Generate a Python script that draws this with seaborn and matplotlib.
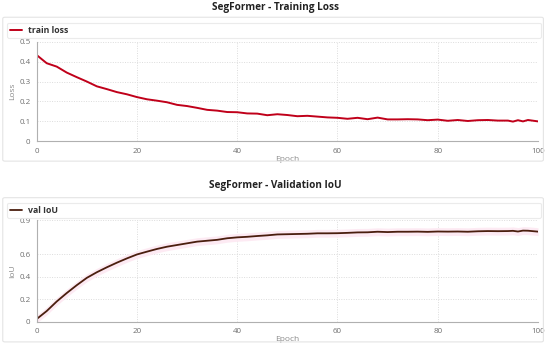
import numpy as np
import seaborn as sns
import matplotlib.pyplot as plt
from matplotlib.patches import FancyBboxPatch

epochs = [0, 2, 4, 6, 8, 10, 12, 14, 16, 18, 20, 22, 24, 26, 28, 30, 32, 34, 36, 38,
          40, 42, 44, 46, 48, 50, 52, 54, 56, 58, 60, 62, 64, 66, 68, 70, 72, 74, 76, 78,
          80, 82, 84, 86, 88, 90, 92, 94, 95, 96, 97, 98, 100]

train_loss = [0.433, 0.392, 0.375, 0.345, 0.322, 0.300, 0.276, 0.262, 0.247, 0.236,
              0.222, 0.211, 0.204, 0.196, 0.183, 0.177, 0.168, 0.158, 0.154, 0.147,
              0.146, 0.140, 0.139, 0.131, 0.136, 0.132, 0.126, 0.128, 0.124, 0.120,
              0.118, 0.113, 0.118, 0.111, 0.119, 0.110, 0.110, 0.111, 0.110, 0.106,
              0.109, 0.103, 0.107, 0.102, 0.106, 0.107, 0.104, 0.104, 0.099, 0.106,
              0.100, 0.107, 0.100]

val_iou = [0.024, 0.095, 0.180, 0.255, 0.325, 0.390, 0.440, 0.484, 0.525, 0.563,
           0.598, 0.623, 0.647, 0.667, 0.682, 0.697, 0.712, 0.720, 0.728, 0.742,
           0.750, 0.755, 0.762, 0.768, 0.776, 0.778, 0.780, 0.782, 0.786, 0.786,
           0.787, 0.790, 0.794, 0.795, 0.800, 0.797, 0.800, 0.800, 0.801, 0.799,
           0.802, 0.801, 0.802, 0.800, 0.804, 0.806, 0.805, 0.806, 0.808, 0.802,
           0.810, 0.809, 0.801]

loss_ticks = [0, 0.1, 0.2, 0.3, 0.4, 0.5]
iou_ticks = [0, 0.2, 0.4, 0.6, 0.9]
epoch_ticks = [0, 20, 40, 60, 80, 100]
iou_spread = 0.035

sns.set_style("white")
plt.rcParams["font.family"] = ["Open Sans", "DejaVu Sans"]

fig = plt.figure(figsize=(5.5, 3.45), dpi=100)

GREY = "#8a8a8a"


def panel(fig, box_y0, box_h, ax_rect, title, title_y):
    # outer light border of each chart card
    fig.patches.append(FancyBboxPatch((0.005, box_y0), 0.983, box_h,
                                      boxstyle="round,pad=0,rounding_size=0.004",
                                      transform=fig.transFigure, facecolor="none",
                                      edgecolor="#e4e4e4", linewidth=0.8, zorder=0))
    fig.text(0.5, title_y, title, ha="center", va="center", fontsize=7.2,
             fontweight="bold", color="#222222")
    ax = fig.add_axes(ax_rect)
    ax.set_xlim(0, 100)
    ax.set_xticks(epoch_ticks)
    ax.grid(True, linestyle=(0, (1, 1.5)), color="#dcdcdc", linewidth=0.7)
    for s in ["top", "right"]:
        ax.spines[s].set_visible(False)
    for s in ["left", "bottom"]:
        ax.spines[s].set_color("#b0b0b0")
        ax.spines[s].set_linewidth(0.8)
    ax.tick_params(axis="both", labelsize=5.8, colors="#b0b0b0", labelcolor="#6f6f6f",
                   length=3, width=0.7, pad=1.5, direction="out")
    ax.set_facecolor("none")
    return ax


ax1 = panel(fig, 0.533, 0.417, [0.0667, 0.5904, 0.9115, 0.2887],
            "SegFormer - Training Loss", 0.978)
sns.lineplot(x=epochs, y=train_loss, ax=ax1, color="#c0001a", linewidth=1.4,
             label="train loss")
ax1.set_ylim(0, 0.5)
ax1.set_yticks(loss_ticks)
ax1.set_yticklabels(["0", "0.1", "0.2", "0.3", "0.4", "0.5"])
ax1.set_ylabel("Loss", fontsize=6, color=GREY, labelpad=2)
ax1.set_xlabel("Epoch", fontsize=6, color=GREY, labelpad=1)

ax2 = panel(fig, 0.009, 0.418, [0.0667, 0.0675, 0.9115, 0.2934],
            "SegFormer - Validation IoU", 0.461)
iou = np.array(val_iou)
ax2.fill_between(epochs, iou - iou_spread, iou + iou_spread, color="#fdeaf3",
                 linewidth=0, zorder=1)
sns.lineplot(x=epochs, y=val_iou, ax=ax2, color="#4a1e0e", linewidth=1.3,
             label="val IoU")
ax2.set_ylim(0, 0.9)
ax2.set_yticks(iou_ticks)
ax2.set_yticklabels(["0", "0.2", "0.4", "0.6", "0.9"])
ax2.set_ylabel("IoU", fontsize=6, color=GREY, labelpad=2)
ax2.set_xlabel("Epoch", fontsize=6, color=GREY, labelpad=1)

for ax, y0 in [(ax1, 0.8907), (ax2, 0.369)]:
    leg = ax.legend(loc="lower left", bbox_to_anchor=(0.0127, y0, 0.9704, 0.0417),
                    bbox_transform=fig.transFigure, mode="expand", frameon=True,
                    fancybox=True, borderaxespad=0, handlelength=1.4, handletextpad=0.7,
                    borderpad=0.35, prop={"size": 6.3, "weight": "bold"})
    leg.get_frame().set_edgecolor("#e6e6e6")
    leg.get_frame().set_linewidth(0.8)
    for t in leg.get_texts():
        t.set_color("#333333")

fig.savefig("out.png", dpi=100)
